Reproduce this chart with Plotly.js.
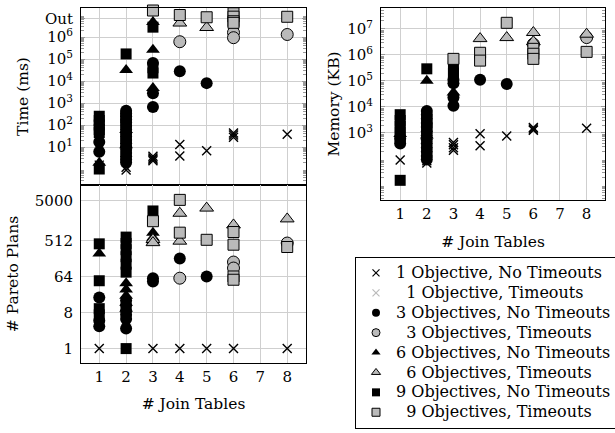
<!DOCTYPE html>
<html><head><meta charset="utf-8">
<script src="https://cdn.plot.ly/plotly-3.0.1.min.js"></script>
<style>html,body{margin:0;padding:0;background:#fff}</style>
</head><body><div id="chart" style="width:615px;height:433px"></div>
<script>
// ---------- data: [join tables, value] ----------
const joinTicks = [1, 2, 3, 4, 5, 6, 7, 8];
const seriesNames = [
  '1 Objective, No Timeouts', '\u00a0\u00a01 Objective, Timeouts',
  '3 Objectives, No Timeouts', '\u00a0\u00a03 Objectives, Timeouts',
  '6 Objectives, No Timeouts', '\u00a0\u00a06 Objectives, Timeouts',
  '9 Objectives, No Timeouts', '\u00a0\u00a09 Objectives, Timeouts'
];
const timeOutValue = 6.6e6;
const timeTickVals = [10, 100, 1e3, 1e4, 1e5, 1e6, timeOutValue];
const timeTickText = ['10<sup>1</sup>', '10<sup>2</sup>', '10<sup>3</sup>', '10<sup>4</sup>', '10<sup>5</sup>', '10<sup>6</sup>', 'Out'];
const planTickVals = [1, 8, 64, 512, 5000];
const planTickText = ['1', '8', '64', '512', '5000'];
const memTickVals = [1e3, 1e4, 1e5, 1e6, 1e7];
const memTickText = ['10<sup>3</sup>', '10<sup>4</sup>', '10<sup>5</sup>', '10<sup>6</sup>', '10<sup>7</sup>'];

// Time (ms)
const time_o1_ok = [[1,1.5],[2,0.9],[2,1.2],[3,3.8],[3,3.2],[3,2.8],[3,2.4],[4,13],[4,3.9],[5,6.8],[6,43],[6,35],[6,28],[8,38]];
const time_o1_to = [];
const time_o3_ok = [[1,17],[1,6.1],[2,450],[2,330],[2,250],[2,180],[2,130],[2,90],[2,62],[2,43],[2,30],[2,21],[2,15],[2,10.5],[2,7.5],[2,5.3],[2,3.8],[2,2.7],[2,2.0],[3,6.6e4],[3,2.8e3],[3,660],[4,2.8e4],[5,8.0e3]];
const time_o3_to = [[4,6.1e5],[6,1.6e6],[6,9.3e5],[8,1.3e6]];
const time_o6_ok = [[1,1.9],[2,3.2e4],[2,60],[2,12],[3,4.8e6],[3,2.6e5],[3,4.8e3]];
const time_o6_to = [[4,4.3e6],[5,2.7e6]];
const time_o9_ok = [[1,250],[1,160],[1,100],[1,62],[1,45],[1,1.0],[2,1.7e5],[2,250],[2,100],[2,25],[3,2.8e6],[3,4.0e4],[3,2.3e4]];
const time_o9_to = [[3,1.6e7],[4,1.0e7],[5,7.9e6],[6,1.2e7],[6,8.4e6],[6,5.2e6],[6,4.4e6],[8,8.3e6]];

// # Pareto plans
const plan_o1_ok = [[1,1],[2,1],[3,1],[4,1],[5,1],[6,1],[8,1]];
const plan_o1_to = [];
const plan_o3_ok = [[1,19],[1,5],[1,3.6],[2,16],[2,12],[2,9],[2,7],[2,5.5],[2,3.2],[3,58],[3,48],[4,180],[5,64]];
const plan_o3_to = [[4,58],[6,147],[6,104],[8,440]];
const plan_o6_ok = [[1,240],[2,43],[2,30],[2,21],[2,14],[2,10],[3,800],[3,600],[3,480]];
const plan_o6_to = [[3,540],[3,450],[4,2450],[4,490],[5,3300],[6,1250],[8,1770]];
const plan_o9_ok = [[1,420],[1,50],[1,10],[1,7],[2,620],[2,430],[2,300],[2,200],[2,130],[2,82],[2,1],[3,2800]];
const plan_o9_to = [[3,1550],[4,5300],[4,800],[5,530],[6,830],[6,400],[6,64],[6,53],[8,350]];

// Memory (KB)
const mem_o1_ok = [[1,90],[2,70],[2,85],[3,430],[3,350],[3,270],[3,215],[4,930],[4,320],[5,760],[6,1600],[6,1400],[6,1250],[8,1500]];
const mem_o1_to = [];
const mem_o3_ok = [[1,390],[1,600],[2,7000],[2,5000],[2,3500],[2,2400],[2,1700],[2,1150],[2,800],[2,560],[2,390],[2,270],[2,190],[2,130],[2,95],[3,1.1e5],[3,8e4],[3,2.3e4],[3,1.1e4],[4,1.1e5],[5,7.6e4]];
const mem_o3_to = [[6,2.6e6],[8,4.6e6]];
const mem_o6_ok = [[1,900],[2,1.0e5],[2,800],[3,3.6e4]];
const mem_o6_to = [[4,4.2e6],[5,4.6e6],[6,7.2e6],[6,3.2e6],[8,6.2e6]];
const mem_o9_ok = [[1,5000],[1,3000],[1,1800],[1,1100],[1,700],[1,15],[2,2.9e5],[2,3000],[2,1500],[3,3.5e5],[3,2.0e5],[3,1.4e5]];
const mem_o9_to = [[3,7e5],[4,1.2e6],[4,6e5],[5,1.7e7],[6,1.7e6],[6,1.1e6],[6,7e5],[8,1.3e6]];

const timeSets = [time_o1_ok, time_o1_to, time_o3_ok, time_o3_to, time_o6_ok, time_o6_to, time_o9_ok, time_o9_to];
const planSets = [plan_o1_ok, plan_o1_to, plan_o3_ok, plan_o3_to, plan_o6_ok, plan_o6_to, plan_o9_ok, plan_o9_to];
const memSets  = [mem_o1_ok, mem_o1_to, mem_o3_ok, mem_o3_to, mem_o6_ok, mem_o6_to, mem_o9_ok, mem_o9_to];

// ---------- styles ----------
const GRAY = '#bababa';
const styles = [
  {symbol:'x-thin', color:'#000', lc:'#000', lw:1.4, size:9},
  {symbol:'x-thin', color:GRAY, lc:GRAY, lw:1.4, size:9},
  {symbol:'circle', color:'#000', lc:'#000', lw:0, size:12},
  {symbol:'circle', color:GRAY, lc:'#000', lw:1, size:12},
  {symbol:'triangle-up', color:'#000', lc:'#000', lw:0, size:12},
  {symbol:'triangle-up', color:GRAY, lc:'#000', lw:1, size:12},
  {symbol:'square', color:'#000', lc:'#000', lw:0, size:11},
  {symbol:'square', color:GRAY, lc:'#000', lw:1, size:11}
];

const FONT = 'DejaVu Serif';
const traces = [];
function addSet(sets, xa, ya) {
  sets.forEach((pts, i) => {
    const s = styles[i];
    traces.push({
      type:'scatter', mode:'markers', xaxis:xa, yaxis:ya, cliponaxis:false,
      x: pts.map(p => p[0]), y: pts.map(p => p[1]),
      showlegend:false, hoverinfo:'skip',
      marker:{symbol:s.symbol, color:s.color, size:s.size, line:{color:s.lc, width:s.lw}}
    });
  });
}
addSet(timeSets, 'x', 'y');
addSet(planSets, 'x2', 'y2');
addSet(memSets, 'x3', 'y3');
// legend entries
seriesNames.forEach((nm, i) => {
  const s = styles[i];
  traces.push({
    type:'scatter', mode:'markers', xaxis:'x3', yaxis:'y3', x:[null], y:[null],
    name:'<span style="font-size:16px">' + nm + '</span>',
    showlegend:true, hoverinfo:'skip',
    marker:{symbol:s.symbol, color:s.color, size: s.symbol==='x-thin' ? 7 : 8,
            line:{color:s.lc, width: s.symbol==='x-thin' ? 1.2 : s.lw}}
  });
});

function minorVals(lo, hi) {
  const v = [];
  for (let k = lo; k <= hi; k++) for (let m = 2; m <= 9; m++) v.push(m * Math.pow(10, k));
  return v;
}

const px = v => v / 615, py = v => 1 - v / 433;
const gridC = '#cfcfcf';
const tickFont = {family:FONT, size:15, color:'#000'};
const titleFont = {family:FONT, size:15.5, color:'#000'};
const baseX = {
  type:'linear', tickmode:'array', tickvals:joinTicks, ticktext:joinTicks.map(String),
  showgrid:true, gridcolor:gridC, gridwidth:1, zeroline:false,
  showline:true, linecolor:'#000', linewidth:1, mirror:true, ticks:'', tickfont:tickFont,
  automargin:false
};
const baseY = {
  type:'log', tickmode:'array', showgrid:true, gridcolor:gridC, gridwidth:1, zeroline:false,
  showline:true, linecolor:'#000', linewidth:1, mirror:'ticks', ticks:'inside', ticklen:4,
  tickcolor:'#999', tickfont:tickFont, ticklabelstandoff:4, automargin:false
};

const layout = {
  width:615, height:433, margin:{l:0, r:0, t:0, b:0, autoexpand:false},
  paper_bgcolor:'#fff', plot_bgcolor:'#fff', showlegend:true,
  font:{family:FONT, color:'#000'},
  xaxis: Object.assign({}, baseX, {domain:[px(81), px(306)], anchor:'y', range:[0.32, 8.7], showticklabels:false}),
  yaxis: Object.assign({}, baseY, {domain:[py(185), py(8)], anchor:'x', range:[-0.727, 7.318],
           tickvals:timeTickVals, ticktext:timeTickText,
           minor:{tickmode:'array', tickvals:minorVals(-1, 6), ticks:'inside', ticklen:3, tickcolor:'#999', showgrid:false},
           title:{text:'Time (ms)', font:titleFont, standoff:12}}),
  xaxis2: Object.assign({}, baseX, {domain:[px(81), px(306)], anchor:'y2', range:[0.32, 8.7],
           title:{text:'# Join Tables', font:titleFont, standoff:13}}),
  yaxis2: Object.assign({}, baseY, {domain:[py(363), py(185)], anchor:'x2', range:[-0.361, 4.097],
           tickvals:planTickVals, ticktext:planTickText, ticks:'',
           title:{text:'# Pareto Plans', font:titleFont, standoff:12}}),
  xaxis3: Object.assign({}, baseX, {domain:[px(381), px(605)], anchor:'y3', range:[0.28, 8.69],
           title:{text:'# Join Tables', font:titleFont, standoff:14}}),
  yaxis3: Object.assign({}, baseY, {domain:[py(200), py(8)], anchor:'x3', range:[0.42, 7.8],
           tickvals:memTickVals, ticktext:memTickText,
           minor:{tickmode:'array', tickvals:minorVals(0, 7), ticks:'inside', ticklen:3, tickcolor:'#999', showgrid:false},
           title:{text:'Memory (KB)', font:titleFont, standoff:3}}),
  legend:{x:px(355), y:py(257), xanchor:'left', yanchor:'top', bgcolor:'#fff',
          bordercolor:'#000', borderwidth:1, font:{family:FONT, size:13, color:'#000'},
          tracegroupgap:0, itemclick:false}
};

Plotly.newPlot('chart', traces, layout, {staticPlot:true, displayModeBar:false});
</script></body></html>
